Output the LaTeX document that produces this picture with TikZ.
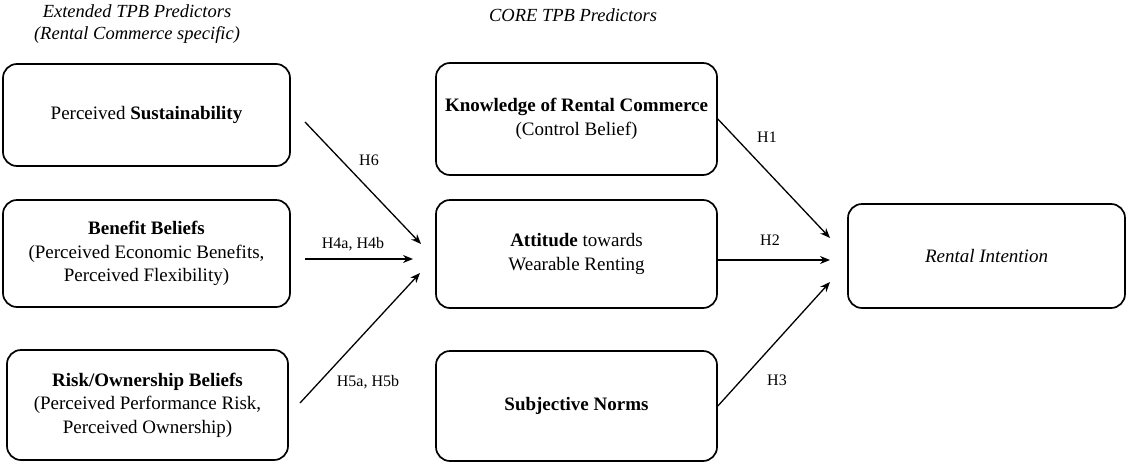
\documentclass[tikz,border=0pt]{standalone}
\usepackage{fontspec}
\setmainfont{Liberation Serif}
\usetikzlibrary{arrows.meta}
\begin{document}
\begin{tikzpicture}[x=1pt,y=-1pt,
  box/.style={draw, line width=1.7pt, rounded corners=14pt, align=center, inner sep=0pt,
              font=\fontsize{19}{23.5}\selectfont},
  hyp/.style={font=\fontsize{16}{19}\selectfont, inner sep=0pt},
  arr/.style={line width=1.3pt, -{Stealth[length=10pt,width=8pt]}},
  head/.style={font=\fontsize{18.5}{22}\selectfont\itshape, align=center, inner sep=0pt}]
\useasboundingbox (0,0) rectangle (1129,466);

% headers
\node[head] (hext) at (137,24) {Extended TPB Predictors\\(Rental Commerce specific)};
\node[head] (hcore) at (573,15) {CORE TPB Predictors};

% left column
\node[box, minimum width=287pt, minimum height=102pt] (L1) at (146.5,115)
  {Perceived \textbf{Sustainability}};
\node[box, minimum width=287pt, minimum height=107pt] (L2) at (146.5,253.5)
  {\textbf{Benefit Beliefs}\\(Perceived Economic Benefits,\\Perceived Flexibility)};
\node[box, minimum width=281pt, minimum height=110pt] (L3) at (147.5,405)
  {\textbf{Risk/Ownership Beliefs}\\(Perceived Performance Risk,\\Perceived Ownership)};

% middle column
\node[box, minimum width=281pt, minimum height=112pt] (M1) at (576.5,119)
  {\textbf{Knowledge of Rental Commerce}\\(Control Belief)};
\node[box, minimum width=281pt, minimum height=108pt] (M2) at (576.5,254)
  {\textbf{Attitude} towards\\Wearable Renting};
\node[box, minimum width=281pt, minimum height=110pt] (M3) at (576.5,406)
  {\textbf{Subjective Norms}};

% outcome
\node[box, minimum width=277pt, minimum height=104pt] (R) at (986.5,256)
  {\textit{Rental Intention}};

% arrow end points
\coordinate (s6) at (305,122);
\coordinate (e6) at (421,244);
\coordinate (s4) at (305,259);
\coordinate (e4) at (413,259);
\coordinate (s5) at (300,403);
\coordinate (e5) at (420,273);
\coordinate (s2) at (717,260);
\coordinate (e1) at (830,238);
\coordinate (e2) at (830,260);
\coordinate (e3) at (830,282);

\draw[arr] (s6) -- (e6);
\draw[arr] (s4) -- (e4);
\draw[arr] (s5) -- (e5);
\draw[arr] (M1.east) -- (e1);
\draw[arr] (s2) -- (e2);
\draw[arr] (M3.east) -- (e3);

% labels
\node[hyp] (h6) at (369,160) {H6};
\node[hyp] (h4) at (353,244) {H4a, H4b};
\node[hyp] (h5) at (368,382) {H5a, H5b};
\node[hyp] (h1) at (767,137) {H1};
\node[hyp] (h2) at (770,240) {H2};
\node[hyp] (h3) at (777,380) {H3};
\end{tikzpicture}
\end{document}
